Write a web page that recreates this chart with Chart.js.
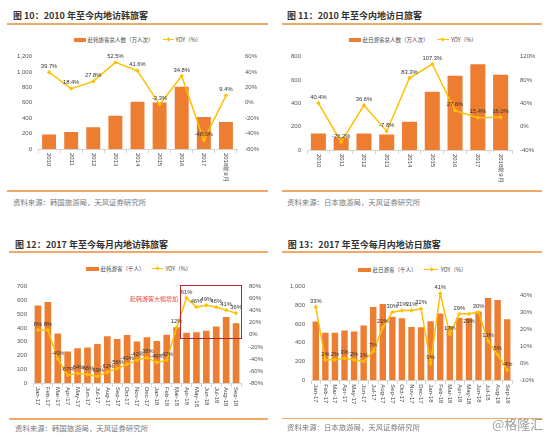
<!DOCTYPE html>
<html>
<head>
<meta charset="utf-8">
<script src="https://cdn.jsdelivr.net/npm/chart.js@4.4.0/dist/chart.umd.min.js"></script>
<style>
body { margin: 0; background: #fff; }
#wrap { position: relative; width: 550px; height: 437px; overflow: hidden; font-family: "Noto Sans CJK SC", "Noto Sans", sans-serif; }
.abs { position: absolute; white-space: nowrap; display: flex; align-items: center; height: 12px; }
.title { font-weight: bold; font-size: 9px; color: #333; }
.src { font-size: 7.4px; color: #777; }
.leg { font-size: 5.5px; color: #444; }
.rule { position: absolute; height: 1.5px; background: #efaa6a; }
canvas { position: absolute; }
</style>
</head>
<body>
<div id="wrap"></div>
<script>
// ---------- data ----------
const yearLabels = ['2010', '2011', '2012', '2013', '2014', '2015', '2016', '2017', '2018前9月'];
const koreaYearVisitors = [188, 222, 284, 433, 613, 605, 810, 416, 352];
const koreaYearYoy = [39.7, 18.4, 27.8, 52.5, 41.6, -2.3, 34.8, -48.3, 9.4];
const japanYearVisitors = [142, 104, 142, 132, 241, 499, 636, 734, 644];
const japanYearYoy = [40.4, -26.2, 36.6, -7.8, 83.3, 107.3, 27.6, 15.4, 16.0];

const monthLabels = ['Jan-17', 'Feb-17', 'Mar-17', 'Apr-17', 'May-17', 'Jun-17', 'Jul-17', 'Aug-17', 'Sep-17',
  'Oct-17', 'Nov-17', 'Dec-17', 'Jan-18', 'Feb-18', 'Mar-18', 'Apr-18', 'May-18', 'Jun-18', 'Jul-18', 'Aug-18', 'Sep-18'];
const koreaMonthVisitors = [563, 588, 360, 228, 253, 257, 283, 340, 319, 349, 301, 333, 305, 351, 404, 365, 369, 380, 410, 479, 433];
const koreaMonthYoy = [8, 8, -40, -67, -64, -66, -69, -62, -56, -49, -42, -38, -46, -42, 12, 61, 46, 49, 46, 41, 36];
const japanMonthVisitors = [627, 507, 507, 531, 521, 586, 781, 815, 678, 661, 568, 565, 630, 712, 575, 668, 666, 735, 878, 858, 652];
const japanMonthYoy = [33, 2, 2, 3, 2, 1, 7, 21, 30, 31, 31, 32, 0, 41, 17, 29, 29, 30, 13, 5, -4];

const BAR = '#ED7D31';
const LINE = '#FFC000';
const TICK_FONT = { family: 'Liberation Sans', size: 6 };

// ---------- page furniture ----------
const wrap = document.getElementById('wrap');

function addText(cls, x, cy, text) {
  const d = document.createElement('div');
  d.className = 'abs ' + cls;
  d.style.left = x + 'px';
  d.style.top = (cy - 6) + 'px';
  d.textContent = text;
  wrap.appendChild(d);
  return d;
}

function addRule(x0, x1, y) {
  const d = document.createElement('div');
  d.className = 'rule';
  d.style.left = x0 + 'px';
  d.style.width = (x1 - x0) + 'px';
  d.style.top = (y - 0.75) + 'px';
  wrap.appendChild(d);
}

function addLegend(y, rect, t1x, t1, line, t2x) {
  const r = document.createElement('div');
  r.style.cssText = `position:absolute;left:${rect[0]}px;top:${y - 2}px;width:${rect[1] - rect[0]}px;height:4px;background:${BAR}`;
  wrap.appendChild(r);
  addText('leg', t1x, y, t1);
  const l = document.createElement('div');
  l.style.cssText = `position:absolute;left:${line[0]}px;top:${y - 0.75}px;width:${line[1] - line[0]}px;height:1.5px;background:${LINE}`;
  wrap.appendChild(l);
  const m = document.createElement('div');
  const mx = (line[0] + line[1]) / 2;
  m.style.cssText = `position:absolute;left:${mx - 1.6}px;top:${y - 1.6}px;width:3.2px;height:3.2px;background:${LINE};transform:rotate(45deg)`;
  wrap.appendChild(m);
  addText('leg', t2x, y, 'YOY（%）');
}

function addCanvas(id, x, y, w, h) {
  const c = document.createElement('canvas');
  c.id = id;
  c.width = w; c.height = h;
  c.style.left = x + 'px';
  c.style.top = y + 'px';
  c.style.width = w + 'px';
  c.style.height = h + 'px';
  wrap.appendChild(c);
  return c;
}

// ---------- plugins ----------
const rotLabels = {
  id: 'rotLabels',
  afterDraw(chart) {
    const sx = chart.scales.x, ctx = chart.ctx;
    ctx.save();
    ctx.font = '6px "Liberation Sans"';
    ctx.fillStyle = '#444';
    ctx.textAlign = 'left';
    ctx.textBaseline = 'middle';
    chart.data.labels.forEach((lb, i) => {
      ctx.save();
      ctx.translate(sx.getPixelForValue(i), sx.top + 4);
      ctx.rotate(Math.PI / 2);
      ctx.fillText(lb, 0, 0);
      ctx.restore();
    });
    ctx.restore();
  }
};

function makePointLabels(decimals, offsets) {
  return {
    id: 'pointLabels',
    afterDatasetsDraw(chart) {
      const ctx = chart.ctx;
      const meta = chart.getDatasetMeta(1);
      const vals = chart.data.datasets[1].data;
      ctx.save();
      ctx.font = '5.8px "Liberation Sans"';
      ctx.fillStyle = '#333';
      ctx.textAlign = 'center';
      ctx.textBaseline = 'bottom';
      meta.data.forEach((pt, i) => {
        const off = offsets[i] || [0, 0];
        ctx.fillText(vals[i].toFixed(decimals) + '%', pt.x + off[0], pt.y - 3 + off[1]);
      });
      ctx.restore();
    }
  };
}

const surgeBox = {
  id: 'surgeBox',
  afterDatasetsDraw(chart) {
    const sx = chart.scales.x, sy = chart.scales.y1, ctx = chart.ctx;
    const x0 = sx.getPixelForValue(14.35), x1 = sx.getPixelForValue(20.47);
    const y0 = sy.getPixelForValue(83), y1 = sy.getPixelForValue(-5);
    ctx.save();
    ctx.strokeStyle = '#b8252a';
    ctx.lineWidth = 1;
    ctx.strokeRect(Math.round(x0) + 0.5, Math.round(y0) + 0.5, Math.round(x1 - x0), Math.round(y1 - y0));
    ctx.font = '6px "Noto Sans CJK SC"';
    ctx.fillStyle = '#e2463f';
    ctx.textAlign = 'right';
    ctx.textBaseline = 'middle';
    ctx.fillText('赴韩游客大幅增加', sx.getPixelForValue(14.15), sy.getPixelForValue(60.5));
    ctx.restore();
  }
};

// ---------- chart builder ----------
function buildChart(canvas, labels, bars, yoy, c) {
  return new Chart(canvas, {
    type: 'bar',
    data: {
      labels: labels,
      datasets: [
        { type: 'bar', data: bars, backgroundColor: BAR, barPercentage: c.barPct, categoryPercentage: 1, yAxisID: 'y', order: 1 },
        { type: 'line', data: yoy, borderColor: LINE, borderWidth: 1.5, tension: 0, pointStyle: 'rectRot', pointRadius: 2.2,
          pointBackgroundColor: LINE, pointBorderColor: LINE, pointBorderWidth: 0, yAxisID: 'y1', order: 0 }
      ]
    },
    options: {
      responsive: false,
      animation: false,
      devicePixelRatio: 1,
      layout: { padding: { top: c.padTop, left: 0, right: 0, bottom: 0 } },
      plugins: { legend: { display: false }, tooltip: { enabled: false } },
      scales: {
        x: {
          offset: true,
          grid: { display: true, drawOnChartArea: false, drawTicks: true, tickLength: 4, color: '#d4d4d4', offset: true },
          border: { display: true, color: '#d4d4d4' },
          ticks: { display: false },
          afterFit: s => { s.height = c.xH; }
        },
        y: {
          position: 'left', min: c.yMin, max: c.yMax,
          grid: { display: false, drawTicks: false }, border: { display: false },
          ticks: { stepSize: c.yStep, font: TICK_FONT, color: '#555', padding: 6, callback: v => v.toLocaleString('en-US') },
          afterFit: s => { s.width = c.yW; }
        },
        y1: {
          position: 'right', min: c.rMin, max: c.rMax,
          grid: { display: false, drawTicks: false }, border: { display: false },
          ticks: { stepSize: c.rStep, font: TICK_FONT, color: '#555', padding: 8, callback: v => v + '%' },
          afterFit: s => { s.width = c.rW; }
        }
      }
    },
    plugins: [makePointLabels(c.decimals, c.offsets || {}), rotLabels].concat(c.extra || [])
  });
}

// ---------- panel 1 : 图10 ----------
addText('title', 13, 15, '图 10：2010 年至今内地访韩旅客');
addRule(7, 268, 24);
addLegend(39.5, [74, 86], 87.5, '赴韩旅客总人数（万人次）', [163, 174], 175.5);
buildChart(addCanvas('c1', 0, 45, 270, 140), yearLabels, koreaYearVisitors, koreaYearYoy,
  { padTop: 8, xH: 36, yW: 38, rW: 33, yMin: 0, yMax: 1200, yStep: 200, rMin: -60, rMax: 60, rStep: 20, barPct: 0.63, decimals: 1 });
addRule(7, 268, 191);
addText('src', 13, 201, '资料来源：韩国旅游局，天风证券研究所');

// ---------- panel 2 : 图11 ----------
addText('title', 287, 15, '图 11：2010 年至今内地访日旅客');
addRule(282, 542, 24);
addLegend(39.5, [349, 361], 362.5, '赴日游客总人数（万人次）', [437, 449], 451);
buildChart(addCanvas('c2', 275, 45, 270, 140), yearLabels, japanYearVisitors, japanYearYoy,
  { padTop: 8, xH: 35, yW: 32, rW: 33, yMin: 0, yMax: 800, yStep: 200, rMin: -40, rMax: 120, rStep: 40, barPct: 0.66, decimals: 1 });
addRule(282, 542, 191);
addText('src', 287, 201, '资料来源：日本旅游局，天风证券研究所');

// ---------- panel 3 : 图12 ----------
addText('title', 15, 244.7, '图 12：2017 年至今每月内地访韩旅客');
addRule(9, 268, 252);
addLegend(268.7, [86, 99], 100.5, '赴韩游客（千人）', [152, 163], 165.5);
buildChart(addCanvas('c3', 0, 275, 270, 140), monthLabels, koreaMonthVisitors, koreaMonthYoy,
  { padTop: 6, xH: 32, yW: 33, rW: 29, yMin: 0, yMax: 700, yStep: 100, rMin: -80, rMax: 80, rStep: 20, barPct: 0.67, decimals: 0,
    extra: [surgeBox] });
addRule(9, 268, 419);
addText('src', 15, 427, '资料来源：韩国旅游局，天风证券研究所');

// ---------- panel 4 : 图13 ----------
addText('title', 287.7, 244.7, '图 13：2017 年至今每月内地访日旅客');
addRule(282, 542, 252);
addLegend(269.7, [357.7, 371], 372.5, '赴日游客（千人）', [424.3, 438.3], 440.7);
buildChart(addCanvas('c4', 275, 275, 270, 140), monthLabels, japanMonthVisitors, japanMonthYoy,
  { padTop: 8, xH: 34.7, yW: 36, rW: 33, yMin: 0, yMax: 1000, yStep: 100, rMin: -10, rMax: 45, rStep: 5, barPct: 0.67, decimals: 0,
    offsets: { 16: [0, 13] } });
addRule(282, 542, 418.7);
addText('src', 287, 426, '资料来源：日本旅游局，天风证券研究所');

const wm = addText('', 492, 423.7, '@格隆汇');
wm.style.fontSize = '13px';
wm.style.color = '#a0a0a0';
wm.style.height = '16px';
wm.style.top = (423.7 - 8) + 'px';
</script>
</body>
</html>
